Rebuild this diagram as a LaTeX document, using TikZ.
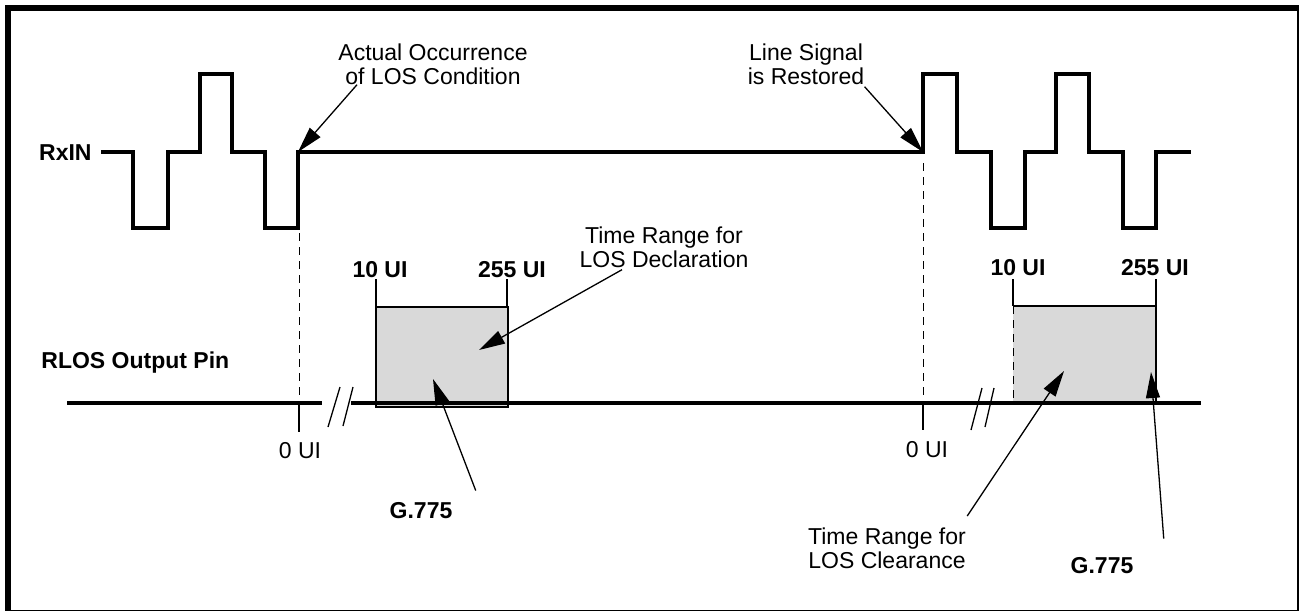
\documentclass[tikz,border=0pt]{standalone}
\usepackage{fontspec}
\setmainfont{Liberation Sans}
\usetikzlibrary{arrows.meta, calc}
\definecolor{boxgray}{RGB}{217,217,217}

\begin{document}
\begin{tikzpicture}[x=0.5pt, y=-0.5pt, >={Triangle[length=13pt,width=7pt]},
    lbl/.style={font=\fontsize{11.5}{12}\selectfont, inner sep=0pt, align=center},
    blbl/.style={lbl, font=\fontsize{11.5}{12}\selectfont\bfseries},
    wave/.style={line width=1.9pt},
    pinline/.style={line width=2.3pt},
    tickline/.style={line width=0.65pt},
    pointer/.style={->, line width=0.65pt},
    guide/.style={line width=0.5pt, dash pattern=on 4pt off 3pt},
    rangebox/.style={fill=boxgray, draw, line width=0.8pt}]

    \useasboundingbox (0,0) rectangle (1299,610);
    \draw[line width=3pt] (8,8) rectangle (1300,613);

    %% RxIN
    \node[blbl, anchor=base east] (rxin) at (92,160) {RxIN};
    \draw[wave] (101,152) -- (133,152) -- (133,228) -- (168,228) -- (168,152)
      -- (200,152) -- (200,74) -- (232,74) -- (232,152) -- (265,152) -- (265,228)
      -- (298,228) -- (298,152) -- (923,152) -- (923,74) -- (957,74) -- (957,152)
      -- (991,152) -- (991,228) -- (1025,228) -- (1025,152) -- (1056,152)
      -- (1056,74) -- (1089,74) -- (1089,152) -- (1123,152) -- (1123,228)
      -- (1156,228) -- (1156,152) -- (1191,152);
    \coordinate (losedge) at (298,152);
    \coordinate (restedge) at (923,152);

    % LOS condition / signal restored
    \node[lbl, anchor=north] (actual) at (433,43) {Actual Occurrence\\of LOS Condition};
    \node[lbl, anchor=north] (restored) at (806,43) {Line Signal\\is Restored};
    \draw[pointer] ($(actual.south west)+(19,0)$) -- (losedge);
    \draw[pointer] ($(restored.south east)+(0,2)$) -- (restedge);

    %% RLOS
    \node[blbl, anchor=base west] (rlos) at (41,368) {RLOS Output Pin};

    % declaration range
    \draw[rangebox] (376,307) rectangle (508,407);
    \draw[tickline] (376,279) -- (376,307);
    \draw[tickline] (507,279) -- (507,307);
    \node[blbl, anchor=base] (tenl) at (380,277) {10 UI};
    \node[blbl, anchor=base] (twol) at (512,277) {255 UI};

    % clearance range
    \fill[boxgray] (1013,306) rectangle (1156,403);
    \draw[line width=0.8pt] (1013,306) -- (1156,306) -- (1156,403);
    \draw[guide] (1013,306) -- (1013,403);
    \draw[tickline] (1013,279) -- (1013,306);
    \draw[tickline] (1156,279) -- (1156,306);
    \node[blbl, anchor=base] (tenr) at (1018,275) {10 UI};
    \node[blbl, anchor=base] (twor) at (1155,275) {255 UI};

    % output line with breaks
    \draw[pinline] (67,403) -- (322,403);
    \draw[pinline] (351,403) -- (1201,403);
    \draw[tickline] (328,427) -- (340,387);
    \draw[tickline] (343,426) -- (353,387);
    \draw[tickline] (971,430) -- (982,388);
    \draw[tickline] (985,427) -- (994,388);

    % 0 UI marks
    \draw[guide] (299,163) -- (299,403);
    \draw[guide] (923,163) -- (923,403);
    \draw[tickline] (299,403) -- (299,432);
    \draw[tickline] (923,403) -- (923,430);
    \node[lbl, anchor=base] (zerol) at (300,458) {0 UI};
    \node[lbl, anchor=base] (zeror) at (927,457) {0 UI};

    % pointers into the boxes
    \coordinate (declpt) at (479,350);
    \coordinate (glpt) at (433,379);
    \coordinate (clearpt) at (1064,371);
    \coordinate (grpt) at (1151,372);
    \node[lbl, anchor=north] (decl) at (664,226) {Time Range for\\LOS Declaration};
    \node[blbl, anchor=base] (gl) at (421,518) {G.775};
    \node[lbl, anchor=north] (clear) at (887,527) {Time Range for\\LOS Clearance};
    \node[blbl, anchor=base] (gr) at (1102,573) {G.775};
    \draw[pointer] ($(decl.south)+(-42,2)$) -- (declpt);
    \draw[pointer] ($(gl.north east)+(23,-11)$) -- (glpt);
    \draw[pointer] ($(clear.north east)+(1,-11)$) -- (clearpt);
    \draw[pointer] ($(gr.north east)+(30,-18)$) -- (grpt);

\end{tikzpicture}
\end{document}
